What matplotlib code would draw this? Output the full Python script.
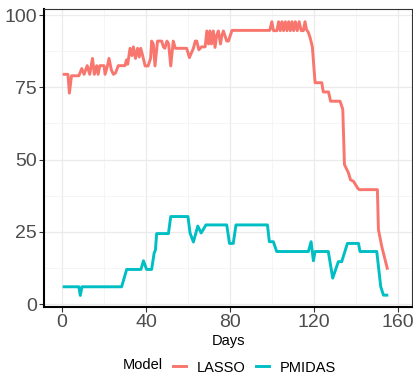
import matplotlib
matplotlib.use("Agg")
import matplotlib.pyplot as plt
from matplotlib.lines import Line2D

plt.rcParams['font.family'] = ['Liberation Sans', 'DejaVu Sans']

# values
lasso_days = [1, 2.8, 3.5, 4.5, 8, 9.4, 10.5, 12, 13.2, 14.5, 15.4, 16.5, 17.2, 18, 20, 20.5,
              21.5, 22.4, 23.5, 24.5, 25.5, 26.8, 30, 30.7, 31.3, 32.4, 33.3, 34, 35, 36,
              36.8, 37.5, 38.4, 39.6, 41, 42.2, 42.7, 43.5, 44.3, 45.5, 47.5, 48.3, 49, 50,
              50.8, 51.8, 53, 54, 59.4, 60.7, 62.6, 63.5, 64.2, 65.2, 66.5, 68.2, 69, 69.8,
              70.5, 71.2, 72.1, 72.9, 73.7, 74.5, 75.5, 76.2, 76.9, 78.5, 79.3, 81, 99, 100,
              100.8, 102.4, 103.2, 104, 104.8, 105.6, 106.4, 107.2, 108, 108.8, 109.6, 110.4,
              111.2, 112.1, 113, 114, 115, 115.8, 116.5, 117.4, 118.3, 119.3, 120.6, 123.8,
              124.5, 127, 128, 132.5, 133.8, 134.6, 136.5, 137.5, 138.9, 141, 141.7, 150.3,
              150.8, 152.4, 154, 155]
lasso_vals = [79.5, 79.5, 73, 79, 79, 81.5, 79.5, 82.5, 79.5, 85, 79.5, 82.5, 79.5, 82.5, 82.5, 79.5,
              82, 85, 81, 79.5, 80, 82.5, 82.5, 84.5, 83, 88.5, 86, 89, 85, 88.5,
              85.5, 88.5, 86, 82.4, 82.4, 85, 91, 90, 82.4, 91, 91, 89, 88.5, 91,
              90, 82.4, 91, 88.5, 88.5, 85.3, 88.5, 91, 91, 88, 89, 89, 94.5, 90,
              94.5, 90, 94.5, 88.8, 93, 94.5, 90, 93, 94.5, 91, 91, 94.7, 94.7, 97.7,
              94.6, 94.6, 97.7, 94.6, 97.7, 94.6, 97.7, 94.6, 97.7, 94.6, 97.7, 94.6,
              97.7, 94.6, 97.7, 94.6, 94.6, 97.7, 95, 94, 92, 89, 76.6, 76.6,
              73.4, 73.4, 70.2, 70.2, 67.4, 48.3, 45.4, 43, 42.5, 40, 39.6, 39.6,
              25.7, 19.9, 15.3, 12.4]

pmidas_days = [1, 8, 8.7, 9.5, 28.4, 30.8, 37.6, 38.8, 40.3, 42.7, 43.9, 44.5, 45.1, 50.7, 51.8,
               60, 61, 62.6, 64.7, 66.3, 68.6, 78.5, 79.8, 81.6, 82.9, 97.9, 98.8, 100.7,
               102.3, 117.4, 118.7, 119.8, 120.6, 126.9, 129, 131.7, 133.3, 136, 141.3, 142,
               150, 151.9, 153.2, 154.8]
pmidas_vals = [6, 6, 3, 6, 6, 12, 12, 15, 12, 12, 17.7, 18.7, 24.4, 24.4, 30.3,
               30.3, 24.6, 21.5, 27, 24.6, 27.4, 27.4, 21, 21, 27.4, 27.4, 21.6, 21.6,
               18.2, 18.2, 21.6, 15, 18.2, 18.2, 9, 14.7, 14.7, 21, 21, 18.2,
               18.2, 6, 3.1, 3.1]

models = ['LASSO', 'PMIDAS']
colors = ['#F8766D', '#00BFC4']
x_ticks = [0, 40, 80, 120, 160]
y_ticks = [0, 25, 50, 75, 100]

fig = plt.figure(figsize=(4.14, 3.75), dpi=100)
ax = fig.add_axes([0.1063, 0.1813, 0.8889, 0.7947])

ax.plot(lasso_days, lasso_vals, color=colors[0], lw=2.1, solid_joinstyle='round')
ax.plot(pmidas_days, pmidas_vals, color=colors[1], lw=2.1, solid_joinstyle='round')

ax.set_xlim(-8.6, 166.8)
ax.set_ylim(-1.0, 102.1)
ax.set_xticks(x_ticks)
ax.set_yticks(y_ticks)
ax.set_xticks([20, 60, 100, 140], minor=True)
ax.set_yticks([12.5, 37.5, 62.5, 87.5], minor=True)
ax.grid(which='major', color='#EBEBEB', lw=0.9)
ax.grid(which='minor', color='#F4F4F4', lw=0.6)
ax.set_axisbelow(True)
ax.tick_params(which='minor', length=0)
ax.tick_params(which='major', length=3.5, width=0.8, color='#333333',
               labelsize=14, labelcolor='#4D4D4D', pad=1.5)

for side in ['left', 'bottom']:
    ax.spines[side].set_color('black')
    ax.spines[side].set_linewidth(1.5)
for side in ['top', 'right']:
    ax.spines[side].set_color('#333333')
    ax.spines[side].set_linewidth(0.8)

ax.set_xlabel('Days', fontsize=10.5, labelpad=2)

fig.text(0.297, 0.008, 'Model', fontsize=10.5, ha='left', va='bottom')
handles = [Line2D([0], [0], color=c, lw=2.1) for c in colors]
fig.legend(handles, models, loc='lower left', bbox_to_anchor=(0.396, -0.022), ncol=2,
           frameon=False, fontsize=10.5, handlelength=0.9, handletextpad=0.75,
           columnspacing=0.7, borderaxespad=0.2)

fig.savefig('out.png', dpi=100)
